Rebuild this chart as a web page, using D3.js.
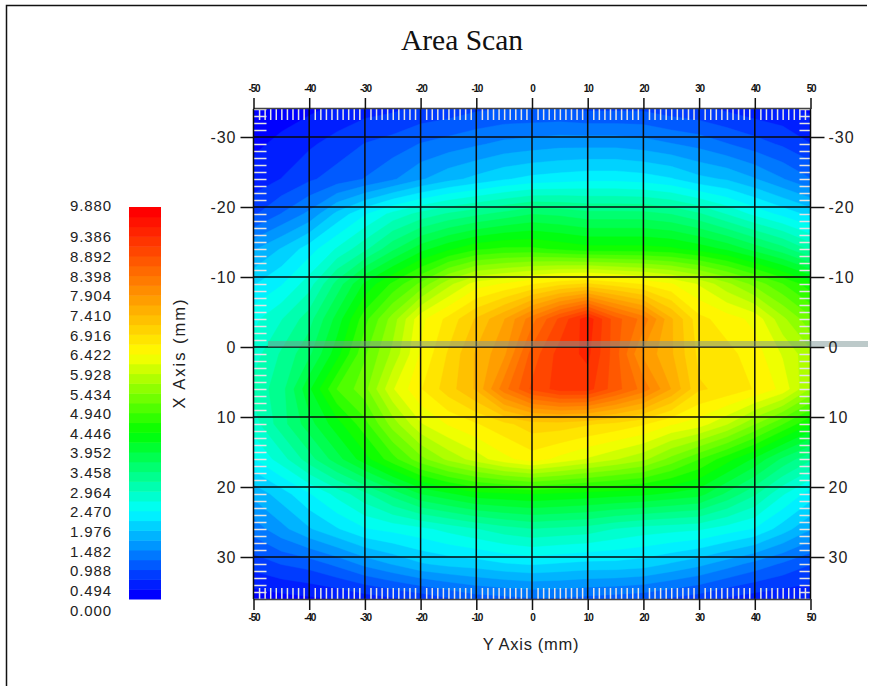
<!DOCTYPE html>
<html>
<head>
<meta charset="utf-8">
<title>Area Scan</title>
<script src="https://cdn.jsdelivr.net/npm/d3@7"></script>
<style>
  html, body { margin: 0; padding: 0; background: #fff; }
  svg { display: block; }
  .minor line { stroke: #e4e4e4; stroke-width: 1.5; }
  .minor path, .outer path { display: none; }
  .outer line { stroke: #111; stroke-width: 1.5; }
  .side text { font: 16px "Liberation Sans", Arial, sans-serif; fill: #222; letter-spacing: 1px; }
  .edge text { font: bold 10px "Liberation Sans", Arial, sans-serif; fill: #111; letter-spacing: -1.2px; }
  .lab { font: 15px "Liberation Sans", Arial, sans-serif; fill: #222; letter-spacing: .9px; }
  .axl { font: 16.5px "Liberation Sans", Arial, sans-serif; fill: #222; }
</style>
</head>
<body>
<div id="chart"></div>
<script>
// columns = Y axis (mm), rows = X axis (mm)
const yCols = [-50, -45, -40, -35, -30, -25, -20, -15, -10, -5, 0, 5, 10, 15, 20, 25, 30, 35, 40, 45, 50];
const xRows = [-34, -29, -24, -19, -14, -9, -4, 1, 6, 11, 16, 21, 26, 31, 36];

const rowM34 = [.15, .15, .2, .3, .4, .45, .55, .6, .7, .75, .75, .75, .7, .7, .7, .6, .55, .45, .35, .3, .2];
const rowM29 = [.2, .3, .45, .6, .75, .85, 1.0, 1.1, 1.2, 1.3, 1.35, 1.4, 1.4, 1.4, 1.35, 1.25, 1.15, 1.0, .85, .7, .5];
const rowM24 = [.35, .5, .7, .85, 1.0, 1.2, 1.45, 1.65, 1.8, 1.95, 2.05, 2.1, 2.15, 2.15, 2.1, 2.0, 1.8, 1.7, 1.5, 1.25, 1.0];
const rowM19 = [.7, 1.0, 1.3, 1.8, 2.2, 2.55, 2.8, 3.0, 3.15, 3.3, 3.45, 3.4, 3.3, 3.3, 3.3, 3.2, 3.0, 2.7, 2.4, 2.15, 1.9];
const rowM14 = [1.45, 1.75, 2.1, 2.5, 2.9, 3.4, 3.85, 4.15, 4.4, 4.5, 4.5, 4.4, 4.3, 4.3, 4.3, 4.25, 4.1, 3.9, 3.6, 3.3, 2.9];
const rowM9 = [1.95, 2.2, 2.6, 3.3, 4.0, 4.5, 5.0, 5.6, 6.05, 6.2, 6.4, 6.6, 6.7, 6.55, 6.4, 6.2, 5.9, 5.5, 5.1, 4.7, 4.3];
const rowM4 = [2.4, 2.7, 3.1, 3.8, 4.6, 5.3, 6.1, 6.5, 6.95, 7.4, 8.05, 8.7, 9.3, 8.5, 8.05, 7.2, 6.5, 6.3, 6.1, 5.5, 5.0];
const rowP1 = [2.6, 3.0, 3.4, 4.1, 4.9, 5.5, 6.2, 6.7, 7.2, 7.6, 8.5, 9.0, 9.2, 8.5, 7.6, 7.2, 6.6, 6.5, 6.3, 5.9, 5.5];
const rowP6 = [2.8, 3.1, 3.9, 4.7, 5.1, 5.9, 6.4, 6.8, 7.2, 8.05, 8.7, 9.0, 9.0, 8.5, 8.05, 7.4, 6.7, 6.6, 6.4, 6.1, 5.4];
const rowP11 = [2.6, 3.1, 3.6, 4.1, 4.6, 5.3, 5.9, 6.2, 6.4, 6.6, 6.8, 6.8, 6.7, 6.6, 6.45, 6.2, 6.05, 5.7, 5.2, 4.7, 4.2];
const rowP16 = [2.2, 2.6, 3.1, 3.6, 4.1, 4.6, 5.1, 5.5, 5.8, 6.1, 6.3, 6.1, 5.9, 5.7, 5.5, 5.1, 4.7, 4.3, 3.9, 3.4, 3.0];
const rowP21 = [1.55, 1.85, 2.2, 2.55, 2.9, 3.3, 3.7, 3.9, 4.1, 4.15, 4.2, 4.15, 4.1, 4.05, 4.0, 3.9, 3.8, 3.4, 3.0, 2.5, 2.1];
const rowP26 = [1.1, 1.4, 1.7, 1.95, 2.2, 2.3, 2.4, 2.55, 2.7, 2.85, 2.95, 2.9, 2.85, 2.7, 2.6, 2.55, 2.5, 2.35, 2.2, 1.85, 1.5];
const rowP31 = [.6, .75, .85, 1.05, 1.3, 1.5, 1.7, 1.8, 1.85, 1.95, 2.0, 1.95, 1.9, 1.9, 1.85, 1.7, 1.55, 1.35, 1.15, .95, .75];
const rowP36 = [.1, .15, .2, .25, .35, .45, .55, .7, .85, .9, .95, .95, .9, .85, .8, .7, .6, .45, .35, .3, .3];

const legendLabels = ["0.000", "0.494", "0.988", "1.482", "1.976", "2.470", "2.964", "3.458",
  "3.952", "4.446", "4.940", "5.434", "5.928", "6.422", "6.916", "7.410", "7.904", "8.398",
  "8.892", "9.386", "9.880"];
const xTicks = [-30, -20, -10, 0, 10, 20, 30];
const yTicks = [-50, -40, -30, -20, -10, 0, 10, 20, 30, 40, 50];

const grid = [rowM34, rowM29, rowM24, rowM19, rowM14, rowM9, rowM4, rowP1, rowP6, rowP11,
  rowP16, rowP21, rowP26, rowP31, rowP36];

const w = 873, h = 686;
const plot = { left: 253.5, right: 810.5, top: 109, bottom: 599 };

const yScale = d3.scaleLinear().domain([-50, 50]).range([plot.left, plot.right]);
const xScale = d3.scaleLinear().domain([-34, 36]).range([plot.top, plot.bottom]);

// 40 colour bands, each 0.247 wide
const bandStep = 0.247, bandCount = 40;
const hue = d3.scaleLinear()
  .domain([0, 8.5, 16.5, 24.5, 39])
  .range(["#0000ff", "#00ffff", "#00ff00", "#ffff00", "#ff0000"]);
const bands = d3.range(bandCount);

const svg = d3.select("#chart").append("svg").attr("width", w).attr("height", h);

// outer frame, only top and left show
svg.append("path").attr("d", `M6.5,${h}V5.5H867`).attr("fill", "none").attr("stroke", "#111").attr("stroke-width", 1.5);

svg.append("text").attr("x", 462).attr("y", 50).attr("text-anchor", "middle")
  .style("font", '29.5px "Liberation Serif", "Times New Roman", serif').style("fill", "#111").text("Area Scan");

// contour field
svg.append("clipPath").attr("id", "plotClip").append("rect")
  .attr("x", plot.left).attr("y", plot.top)
  .attr("width", plot.right - plot.left).attr("height", plot.bottom - plot.top);

const contours = d3.contours()
  .size([yCols.length, xRows.length])
  .thresholds(bands.slice(1).map(k => k * bandStep))(grid.flat());

const colStep = yCols[1] - yCols[0], rowStep = xRows[1] - xRows[0];
const project = d3.geoTransform({
  point(cx, cy) {
    this.stream.point(yScale(yCols[0] + (cx - 0.5) * colStep), xScale(xRows[0] + (cy - 0.5) * rowStep));
  }
});
const field = svg.append("g").attr("clip-path", "url(#plotClip)");
field.append("rect")
  .attr("x", plot.left).attr("y", plot.top)
  .attr("width", plot.right - plot.left).attr("height", plot.bottom - plot.top)
  .attr("fill", hue(0));
field.selectAll("path").data(contours).enter().append("path")
  .attr("d", d3.geoPath(project))
  .attr("fill", (d, i) => hue(i + 1))
  .attr("stroke", (d, i) => hue(i + 1))
  .attr("stroke-width", 0.4);

// minor white ticks inside the frame
const xMinor = d3.range(-34, 37).filter(d => d % 10 !== 0);
const yMinor = d3.range(-49, 50).filter(d => d % 10 !== 0);
const minor = (axis, tx, ty) => svg.append("g").attr("class", "minor")
  .attr("transform", `translate(${tx},${ty})`).call(axis.tickFormat(""));
minor(d3.axisRight(xScale).tickValues(xMinor).tickSize(13), plot.left, 0);
minor(d3.axisLeft(xScale).tickValues(xMinor).tickSize(11), plot.right, 0);
minor(d3.axisBottom(yScale).tickValues(yMinor).tickSize(11), 0, plot.top);
minor(d3.axisTop(yScale).tickValues(yMinor).tickSize(11), 0, plot.bottom);

// grid lines
const gridG = svg.append("g").attr("stroke", "#0a0a0a").attr("stroke-width", 1.5);
gridG.selectAll(".gx").data(xTicks).enter().append("line")
  .attr("x1", plot.left).attr("x2", plot.right).attr("y1", d => xScale(d)).attr("y2", d => xScale(d));
gridG.selectAll(".gy").data(yTicks).enter().append("line")
  .attr("x1", d => yScale(d)).attr("x2", d => yScale(d)).attr("y1", plot.top).attr("y2", plot.bottom);

// the grey band across x = 0
svg.append("rect").attr("x", 268).attr("y", 341).attr("width", 600).attr("height", 6)
  .attr("fill", "#7b9696").attr("opacity", 0.5);

svg.append("path").attr("d", `M${plot.left},${plot.top - 0.5}H${plot.right}M${plot.left},${plot.bottom + 0.5}H${plot.right}`)
  .attr("stroke", "#444").attr("stroke-width", 1.5).attr("fill", "none");

// outer ticks and labels
svg.append("g").attr("class", "outer side").attr("transform", `translate(${plot.left},0)`)
  .call(d3.axisLeft(xScale).tickValues(xTicks).tickSize(13).tickPadding(4));
svg.append("g").attr("class", "outer side").attr("transform", `translate(${plot.right},0)`)
  .call(d3.axisRight(xScale).tickValues(xTicks).tickSize(14).tickPadding(4));
svg.append("g").attr("class", "outer edge").attr("transform", `translate(0,${plot.top})`)
  .call(d3.axisTop(yScale).tickValues(yTicks).tickSize(11).tickPadding(6));
svg.append("g").attr("class", "outer edge").attr("transform", `translate(0,${plot.bottom})`)
  .call(d3.axisBottom(yScale).tickValues(yTicks).tickSize(11).tickPadding(4));
// plain hyphens as in the original, not the axis' minus sign
svg.selectAll(".outer .tick text").text(d => String(d));

svg.append("text").attr("class", "axl").attr("x", 531).attr("y", 650).attr("text-anchor", "middle")
  .style("letter-spacing", "0.7px").text("Y Axis (mm)");
svg.append("text").attr("class", "axl").attr("text-anchor", "middle").style("letter-spacing", "2px")
  .attr("transform", "translate(185,353) rotate(-90)").text("X Axis (mm)");

// colour legend
const legendY = d3.scaleBand().domain(bands).range([599, 207]);
svg.append("g").selectAll("rect").data(bands).enter().append("rect")
  .attr("x", 129).attr("width", 32)
  .attr("y", d => legendY(d)).attr("height", legendY.bandwidth() + 0.5)
  .attr("fill", d => hue(d));

const labelY = d3.scaleLinear().domain([0, 19]).range([610.5, 237]);
svg.append("g").selectAll("text").data(legendLabels).enter().append("text")
  .attr("class", "lab").attr("x", 70).attr("dy", "0.35em")
  .attr("y", (d, i) => i === 20 ? 205.5 : labelY(i))
  .text(d => d);
</script>
</body>
</html>
